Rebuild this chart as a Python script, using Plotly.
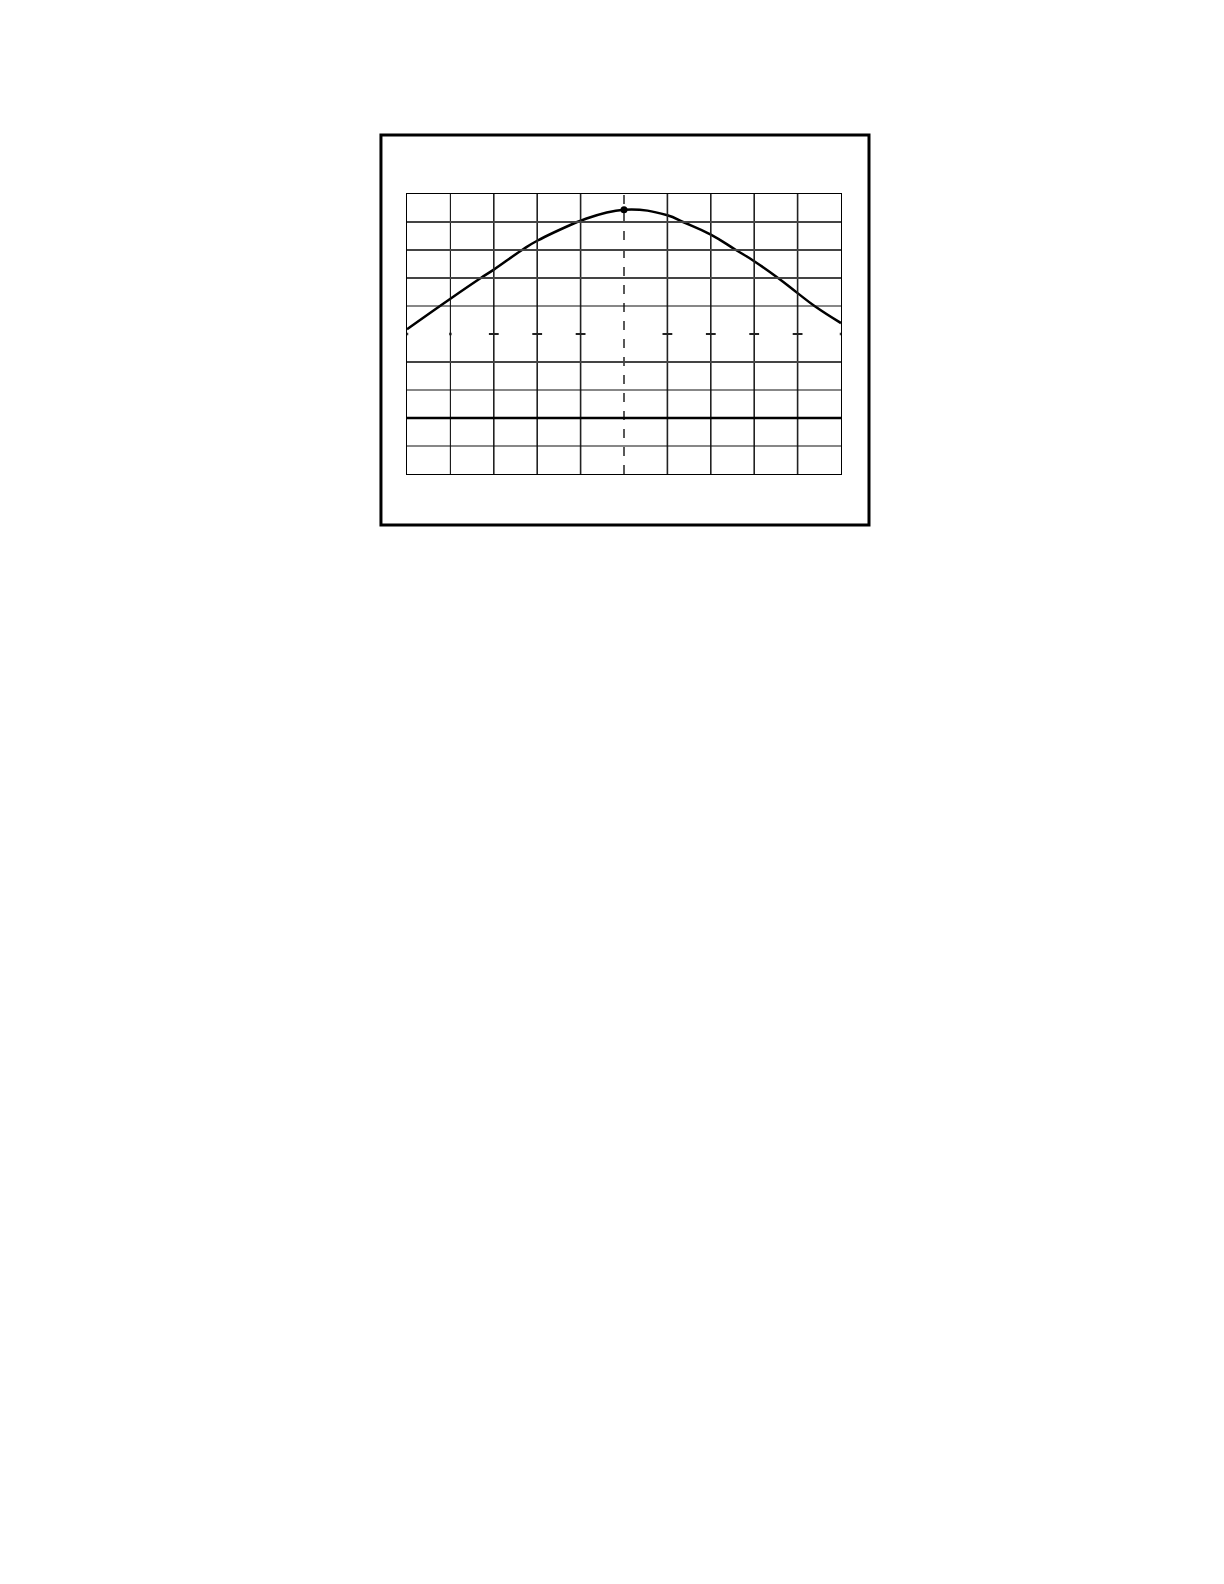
import plotly.graph_objects as go

# trace, in divisions (x: -5..5, y: -5..5)
trace_x = [-5.0, -4.0, -3.3, -3.0, -2.35, -2.0, -1.08, -1.0, 0.0, 1.0, 1.36, 2.0, 2.58, 3.0, 3.55, 4.0, 4.39, 5.0]
trace_y = [0.17, 1.26, 2.0, 2.3, 3.0, 3.33, 4.0, 4.05, 4.44, 4.24, 4.0, 3.55, 3.0, 2.6, 2.0, 1.46, 1.0, 0.39]

peak_x = [0.0]
peak_y = [4.44]

# graticule
v_lines_thin = [-4]
v_lines = [-3, -2, -1, 1, 2, 3, 4]
h_lines_grey = [4, 3, 2, -1]
h_lines_thin = [1, -2, -4]
h_lines_thick = [-3]
tick_x = [-3, -2, -1, 1, 2, 3, 4]
dot_x = [-5, -4, 5]

fig = go.Figure()

shapes = []
for v in v_lines_thin:
    shapes.append(dict(type="line", xref="x", yref="y", x0=v, x1=v, y0=-5, y1=5,
                       line=dict(color="#111", width=1.1)))
for v in v_lines:
    shapes.append(dict(type="line", xref="x", yref="y", x0=v, x1=v, y0=-5, y1=5,
                       line=dict(color="#222", width=1.6)))
shapes.append(dict(type="line", xref="x", yref="y", x0=0, x1=0, y0=-5, y1=5,
                   line=dict(color="#222", width=1.5, dash="dash")))
for h in h_lines_grey:
    shapes.append(dict(type="line", xref="x", yref="y", x0=-5, x1=5, y0=h, y1=h,
                       line=dict(color="#444", width=2)))
for h in h_lines_thin:
    shapes.append(dict(type="line", xref="x", yref="y", x0=-5, x1=5, y0=h, y1=h,
                       line=dict(color="#111", width=1.2)))
for h in h_lines_thick:
    shapes.append(dict(type="line", xref="x", yref="y", x0=-5, x1=5, y0=h, y1=h,
                       line=dict(color="#000", width=2.5)))

# outer frame around the screen
shapes.append(dict(type="rect", xref="paper", yref="paper",
                   x0=-0.06, x1=1.0645, y0=-0.182, y1=1.2107,
                   line=dict(color="#000", width=3)))

fig.add_trace(go.Scatter(
    x=tick_x, y=[0] * len(tick_x), mode="markers",
    marker=dict(symbol="line-ew", size=7, line=dict(color="#222", width=2)),
    hoverinfo="skip"))

fig.add_trace(go.Scatter(
    x=dot_x, y=[0] * len(dot_x), mode="markers",
    marker=dict(symbol="square", size=2.5, color="#333"),
    hoverinfo="skip"))

fig.add_trace(go.Scatter(
    x=trace_x, y=trace_y, mode="lines",
    line=dict(color="#000", width=2.5, shape="spline", smoothing=1.3)))

fig.add_trace(go.Scatter(
    x=peak_x, y=peak_y, mode="markers",
    marker=dict(color="#000", size=7)))

axis = dict(range=[-5, 5], showgrid=False, zeroline=False, showticklabels=False,
            ticks="", showline=True, linecolor="#000", linewidth=1.2, mirror=True)

fig.update_layout(
    width=1224, height=1584,
    margin=dict(l=399, r=391, t=186, b=1118),
    paper_bgcolor="white", plot_bgcolor="white",
    showlegend=False,
    xaxis=axis, yaxis=axis,
    shapes=shapes,
)

fig.write_html("out.html")
